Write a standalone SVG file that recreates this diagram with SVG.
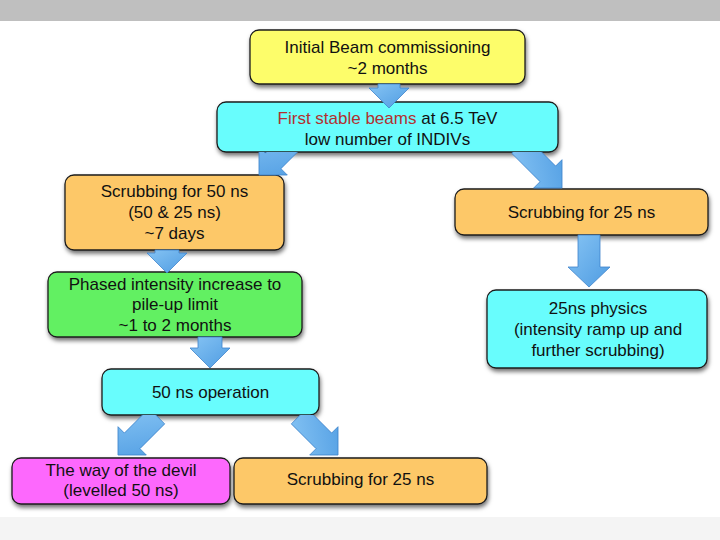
<svg xmlns="http://www.w3.org/2000/svg" width="720" height="540" viewBox="0 0 720 540">
<style>
  .box { stroke: #1c1c1c; stroke-width: 1.3; filter: url(#sh); }
  .y { fill: #fdfd6a; }
  .c { fill: #68fdfd; }
  .o { fill: #fdc868; }
  .g { fill: #62f062; }
  .m { fill: #fd68fd; }
  .t { font-family: "Liberation Sans", Arial, sans-serif; font-size: 17px; fill: #111; text-anchor: middle; }
  .red { fill: #b23030; }
  .arr { fill: url(#ag); stroke: #3f84cc; stroke-width: 0.8; stroke-linejoin: round; }
</style>
<defs>
  <filter id="sh" x="-10%" y="-20%" width="120%" height="150%">
    <feDropShadow dx="1" dy="3" stdDeviation="2" flood-color="#000" flood-opacity="0.55"/>
  </filter>
  <linearGradient id="ag" x1="0" y1="0" x2="1" y2="1">
    <stop offset="0" stop-color="#86c4f4"/>
    <stop offset="1" stop-color="#4f9ce2"/>
  </linearGradient>
  <clipPath id="below2"><rect x="0" y="152" width="720" height="400"/></clipPath>
  <clipPath id="below5"><rect x="0" y="415" width="720" height="200"/></clipPath>
</defs>
<rect x="0" y="0" width="720" height="540" fill="#ffffff"/>
<rect x="0" y="0" width="720" height="21" fill="#bfbfbf"/>
<rect x="0" y="517" width="720" height="23" fill="#f4f4f4"/>

<g id="n1">
  <rect class="box y" x="250" y="30" width="275" height="54" rx="9"/>
  <text class="t" x="387.5" y="53">Initial Beam commissioning</text>
  <text class="t" x="387.5" y="74">~2 months</text>
</g>
<g id="n2">
  <rect class="box c" x="217" y="102" width="341" height="50" rx="9"/>
  <text class="t" x="387.5" y="124"><tspan class="red">First stable beams</tspan> at 6.5 TeV</text>
  <text class="t" x="387.5" y="145">low number of INDIVs</text>
</g>
<g id="n3">
  <rect class="box o" x="65" y="175" width="219" height="75" rx="9"/>
  <text class="t" x="174.5" y="197">Scrubbing for 50 ns</text>
  <text class="t" x="174.5" y="218">(50 &amp; 25 ns)</text>
  <text class="t" x="174.5" y="239">~7 days</text>
</g>
<g id="n4">
  <rect class="box g" x="48" y="272" width="254" height="65" rx="9"/>
  <text class="t" x="175" y="290">Phased intensity increase to</text>
  <text class="t" x="175" y="310">pile-up limit</text>
  <text class="t" x="175" y="331">~1 to 2 months</text>
</g>
<g id="n5">
  <rect class="box c" x="102" y="369" width="217" height="46" rx="9"/>
  <text class="t" x="210.5" y="398">50 ns operation</text>
</g>
<g id="n6">
  <rect class="box m" x="12" y="458" width="218" height="46" rx="9"/>
  <text class="t" x="121" y="476">The way of the devil</text>
  <text class="t" x="121" y="496">(levelled 50 ns)</text>
</g>
<g id="n7">
  <rect class="box o" x="234" y="458" width="253" height="46" rx="9"/>
  <text class="t" x="360.5" y="485">Scrubbing for 25 ns</text>
</g>
<g id="n8">
  <rect class="box o" x="455" y="189" width="253" height="46" rx="9"/>
  <text class="t" x="581.5" y="218">Scrubbing for 25 ns</text>
</g>
<g id="n9">
  <rect class="box c" x="487" y="290" width="220" height="78" rx="9"/>
  <text class="t" x="598" y="314">25ns physics</text>
  <text class="t" x="598" y="335">(intensity ramp up and</text>
  <text class="t" x="598" y="356">further scrubbing)</text>
</g>

<g id="connectors">
  <path class="arr" transform="translate(389,108)" d="M-11,-24 L11,-24 L11,-20 L20,-20 L0,0 L-20,-20 L-11,-20 Z"/>
  <g clip-path="url(#below2)">
    <path class="arr" transform="translate(259,175) rotate(45)" d="M-11,-60 L11,-60 L11,-20 L20,-20 L0,0 L-20,-20 L-11,-20 Z"/>
    <path class="arr" transform="translate(562,188) rotate(-45)" d="M-11,-60 L11,-60 L11,-20 L20,-20 L0,0 L-20,-20 L-11,-20 Z"/>
  </g>
  <path class="arr" transform="translate(167,273)" d="M-12,-23 L12,-23 L12,-20 L20,-20 L0,0 L-20,-20 L-12,-20 Z"/>
  <path class="arr" transform="translate(210,368)" d="M-12,-31 L12,-31 L12,-20 L20,-20 L0,0 L-20,-20 L-12,-20 Z"/>
  <path class="arr" transform="translate(589,287)" d="M-11,-52 L11,-52 L11,-20 L21,-20 L0,0 L-21,-20 L-11,-20 Z"/>
  <g clip-path="url(#below5)">
    <path class="arr" transform="translate(118,455) rotate(45)" d="M-11,-55 L11,-55 L11,-20 L20,-20 L0,0 L-20,-20 L-11,-20 Z"/>
    <path class="arr" transform="translate(338,455) rotate(-45)" d="M-11,-55 L11,-55 L11,-20 L20,-20 L0,0 L-20,-20 L-11,-20 Z"/>
  </g>
</g>
</svg>
